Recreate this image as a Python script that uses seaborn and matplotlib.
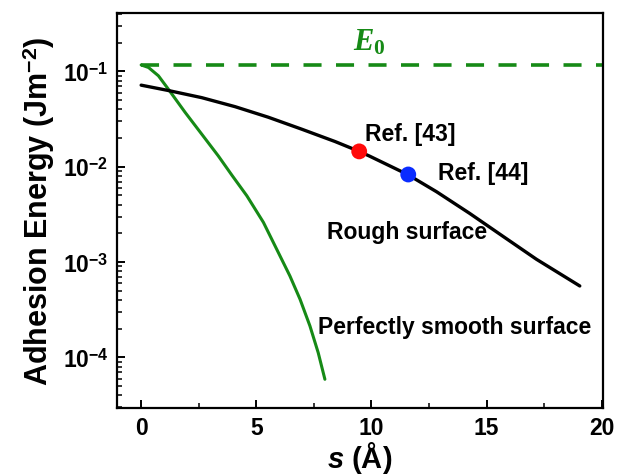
import matplotlib
matplotlib.use("Agg")
import matplotlib.pyplot as plt
import seaborn as sns
import pandas as pd
import numpy as np
from matplotlib.ticker import LogLocator, FixedLocator, FuncFormatter

# ---- data ----
s_rough = [0.0, 1.18, 2.63, 4.08, 5.52, 6.97, 8.42, 9.47, 9.93, 11.57,
           12.83, 14.27, 15.72, 17.17, 19.05]
E_rough = [0.0718, 0.0631, 0.0531, 0.0427, 0.0331, 0.0248, 0.0184, 0.0145,
           0.0129, 0.0083, 0.00547, 0.00324, 0.00186, 0.00107, 5.62e-4]

s_smooth = [0.0, 0.32, 0.75, 1.18, 1.91, 2.63, 3.35, 3.95, 4.59, 5.31,
            5.89, 6.46, 6.90, 7.33, 7.69, 7.98]
E_smooth = [0.117, 0.110, 0.090, 0.0652, 0.0372, 0.0220, 0.0130, 0.0081,
            0.00496, 0.00261, 0.00136, 7.16e-4, 4.08e-4, 2.14e-4, 1.12e-4, 5.9e-5]

ref_s = [9.47, 11.6]
ref_E = [0.0145, 0.0083]
ref_labels = ["Ref. [43]", "Ref. [44]"]
ref_colors = ["#ff0a0a", "#0a2cff"]

E0 = 0.117
E0_s = [0.0, 20.0]

x_ticks = [0, 5, 10, 15, 20]
y_ticks = [1e-4, 1e-3, 1e-2, 1e-1]

# ---- style ----
sns.set_theme(style="ticks")
plt.rcParams["font.family"] = ["Liberation Sans", "DejaVu Sans"]
plt.rcParams["font.weight"] = "bold"
plt.rcParams["text.color"] = "black"
plt.rcParams["axes.labelcolor"] = "black"
plt.rcParams["xtick.color"] = "black"
plt.rcParams["ytick.color"] = "black"
plt.rcParams["mathtext.fontset"] = "custom"
plt.rcParams["mathtext.rm"] = "Liberation Sans:bold"
plt.rcParams["mathtext.it"] = "Liberation Serif:italic:bold"
plt.rcParams["mathtext.bf"] = "Liberation Serif:bold"
plt.rcParams["mathtext.sf"] = "Liberation Sans:italic:bold"

GREEN = "#168a16"

fig = plt.figure(figsize=(6.17, 4.77), dpi=100)
ax = fig.add_axes([0.1896, 0.1426, 0.7874, 0.828])

df_rough = pd.DataFrame({"s": s_rough, "E": E_rough})
df_smooth = pd.DataFrame({"s": s_smooth, "E": E_smooth})
df_e0 = pd.DataFrame({"s": E0_s, "E": [E0, E0]})
df_ref = pd.DataFrame({"s": ref_s, "E": ref_E, "lab": ref_labels})

sns.lineplot(data=df_e0, x="s", y="E", ax=ax, color=GREEN, lw=2.6,
             estimator=None, sort=False)
ax.lines[-1].set_dashes((5, 4))
sns.lineplot(data=df_smooth, x="s", y="E", ax=ax, color=GREEN, lw=2.2,
             estimator=None, sort=False)
sns.lineplot(data=df_rough, x="s", y="E", ax=ax, color="black", lw=2.4,
             estimator=None, sort=False)
sns.scatterplot(data=df_ref, x="s", y="E", hue="lab", palette=ref_colors,
                s=130, edgecolor="none", ax=ax, legend=False, zorder=5)

ax.set_yscale("log")
ax.set_xlim(-1.05, 20.05)
ax.set_ylim(2.95e-5, 0.41)

ax.xaxis.set_major_locator(FixedLocator(x_ticks))
ax.xaxis.set_minor_locator(FixedLocator([2.5, 7.5, 12.5, 17.5]))
ax.yaxis.set_major_locator(FixedLocator(y_ticks))
ax.yaxis.set_minor_locator(LogLocator(base=10, subs=np.arange(2, 10)))
ax.yaxis.set_minor_formatter(FuncFormatter(lambda v, p: ""))
ax.yaxis.set_major_formatter(FuncFormatter(
    lambda v, p: r"$10^{%d}$" % int(round(np.log10(v)))))

for side in ["left", "right", "top", "bottom"]:
    ax.spines[side].set_linewidth(1.6)
    ax.spines[side].set_color("black")
ax.tick_params(which="major", direction="in", length=6, width=1.4,
               labelsize=16.5, pad=6, colors="black")
ax.tick_params(which="minor", direction="in", length=3.5, width=1.1)
ax.tick_params(axis="y", which="both", right=False, left=True)
ax.tick_params(axis="x", which="both", top=False, bottom=True)
for lab in ax.get_xticklabels() + ax.get_yticklabels():
    lab.set_fontweight("bold")

ax.set_xlabel(r"$\mathsf{s}$ (Å)", fontsize=21, fontweight="bold", labelpad=0)
ax.set_ylabel(r"Adhesion Energy (Jm$^{-2}$)", fontsize=22,
              fontweight="bold", labelpad=4)

txt = dict(fontsize=16.5, fontweight="bold", color="black", va="center", ha="left")
ax.text(9.72, 0.0225, ref_labels[0], **txt)
ax.text(12.88, 0.0088, ref_labels[1], **txt)
ax.text(8.07, 0.00211, "Rough surface", **txt)
ax.text(7.68, 2.12e-4, "Perfectly smooth surface", **txt)
ax.text(9.2, 0.205, r"$E_{\mathbf{0}}$", fontsize=22, color=GREEN,
        va="center", ha="left")

fig.savefig("out.png", dpi=100)
